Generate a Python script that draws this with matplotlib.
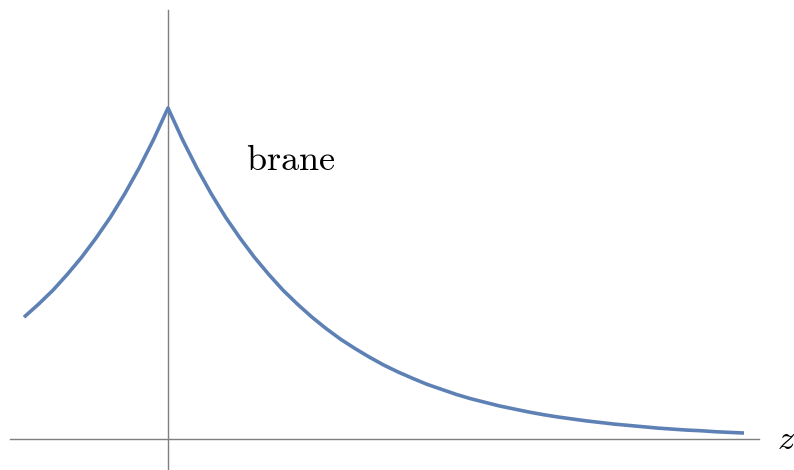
import matplotlib
matplotlib.use('Agg')
import matplotlib.pyplot as plt

plt.rcParams['mathtext.fontset'] = 'cm'

# profile, z from -1 to 4 in steps of 0.1
z_vals = [-1.0, -0.9, -0.8, -0.7, -0.6, -0.5, -0.4, -0.3, -0.2, -0.1,
          0.0, 0.1, 0.2, 0.3, 0.4, 0.5, 0.6, 0.7, 0.8, 0.9,
          1.0, 1.1, 1.2, 1.3, 1.4, 1.5, 1.6, 1.7, 1.8, 1.9,
          2.0, 2.1, 2.2, 2.3, 2.4, 2.5, 2.6, 2.7, 2.8, 2.9,
          3.0, 3.1, 3.2, 3.3, 3.4, 3.5, 3.6, 3.7, 3.8, 3.9, 4.0]
warp = [0.368, 0.407, 0.449, 0.497, 0.549, 0.607, 0.670, 0.741, 0.819, 0.905,
        1.000, 0.905, 0.819, 0.741, 0.670, 0.607, 0.549, 0.497, 0.449, 0.407,
        0.368, 0.333, 0.301, 0.273, 0.247, 0.223, 0.202, 0.183, 0.165, 0.150,
        0.135, 0.122, 0.111, 0.100, 0.091, 0.082, 0.074, 0.067, 0.061, 0.055,
        0.050, 0.045, 0.041, 0.037, 0.033, 0.030, 0.027, 0.025, 0.022, 0.020, 0.018]

fig = plt.figure(figsize=(7.94, 4.70), dpi=100)
ax = fig.add_axes([0, 0, 1, 1])
ax.set_xlim(-168/144, (794-168)/144)
ax.set_ylim(-31/331, 439/331)
ax.axis('off')

axis_col = '#7f7f7f'
ax.plot([-158/144, (759-168)/144], [0, 0], color=axis_col, lw=1.0)
ax.plot([0, 0], [-31/331, 429/331], color=axis_col, lw=1.0)

ax.plot(z_vals, warp, color='#5e81b5', lw=2.6, solid_capstyle='butt')

ax.text((291-168)/144, (439-170)/331, r'$\mathrm{brane}$', fontsize=26,
        ha='center', va='baseline', color='black')
ax.text((786-168)/144, (439-449)/331, r'$z$', fontsize=25,
        ha='center', va='baseline', color='black')

fig.savefig('out.png', dpi=100)
